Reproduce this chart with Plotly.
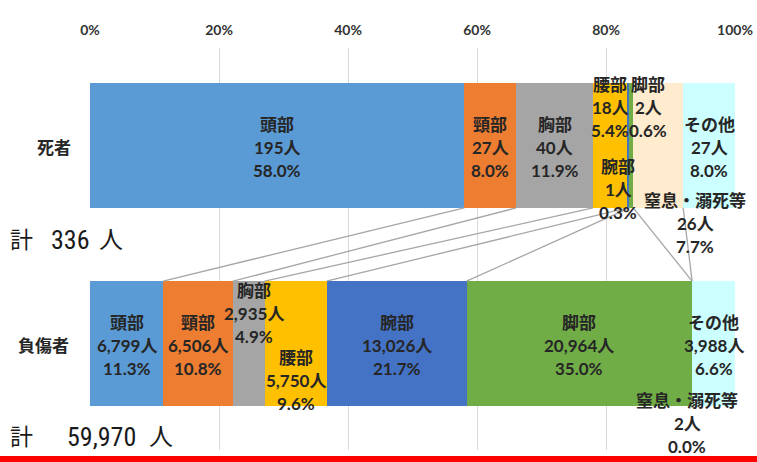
import plotly.graph_objects as go
import numpy as np

# ---------------- data ----------------
parts = ["頭部", "頸部", "胸部", "腰部", "腕部", "脚部", "窒息・溺死等", "その他"]
deaths = [195, 27, 40, 18, 1, 2, 26, 27]
injured = [6799, 6506, 2935, 5750, 13026, 20964, 2, 3988]
groups = ["死者", "負傷者"]
x_ticks = [0, 20, 40, 60, 80, 100]

# ---------------- style ----------------
colors = ["#5B9BD5", "#ED7D31", "#A5A5A5", "#FFC000",
          "#4472C4", "#70AD47", "#FFEBCD", "#CCFFFF"]
# label offsets in pixels (x right, y up)
death_dx = [0, 0, 0, 0, -10, 17, 37, 0]
death_dy = [-2, -2, -2, 38, -44, 38, -78, -2]
inj_dx = [0, 0, 5, 0, 0, 0, -5, 0]
inj_dy = [-2, -2, 30, -37, -2, -2, -80, -2]
LINE_GAP = 23
BAR_W = 0.63
Y_D, Y_I = 1, 0

# page geometry (body margin removed via post_script)
OFF = 0
PAGE_W, PAGE_H = 757, 462
PL, PR, PT, PB = 90, 735, 48, 450          # plot area in page pixels
W, H = PAGE_W - OFF, PAGE_H - OFF
ML, MT = PL - OFF, PT - OFF
MR, MB = W - (PR - OFF), H - (PB - OFF)
PW, PH = PR - PL, PB - PT
CY_D, CY_I = 145.5, 343.5                   # bar centres in page pixels
SPACING = CY_I - CY_D

TXT = "#262626"
LBL_FONT = "Lato, 'Noto Sans CJK JP', sans-serif"
TOT_FONT = "'Liberation Sans Narrow', 'Roboto Condensed', 'DejaVu Sans Condensed', 'Noto Sans CJK JP', sans-serif"


def px_x(px):
    return (px - PL) / PW


def px_y(py):
    return (PB - py) / PH


tot_d = sum(deaths)
tot_i = sum(injured)
pct_d = [v / tot_d * 100 for v in deaths]
pct_i = [v / tot_i * 100 for v in injured]
cum_d = np.cumsum(pct_d)
cum_i = np.cumsum(pct_i)

fig = go.Figure()

# series (connector) lines
cx, cy = [], []
for i in range(len(parts) - 1):
    cx += [cum_d[i], cum_i[i], None]
    cy += [Y_D - BAR_W / 2, Y_I + BAR_W / 2, None]
fig.add_trace(go.Scatter(x=cx, y=cy, mode="lines",
                         line=dict(color="#A6A6A6", width=1.3),
                         hoverinfo="skip", showlegend=False))

for i, p in enumerate(parts):
    fig.add_trace(go.Bar(orientation="h", y=[Y_D, Y_I], x=[deaths[i], injured[i]],
                         width=BAR_W, marker=dict(color=colors[i], line=dict(width=0)),
                         name=p, showlegend=False))

annotations = []
for vals, pcts, cums, yv, dxs, dys in [
    (deaths, pct_d, cum_d, Y_D, death_dx, death_dy),
    (injured, pct_i, cum_i, Y_I, inj_dx, inj_dy),
]:
    for i, p in enumerate(parts):
        xc = cums[i] - pcts[i] / 2
        lines = [p, f"{vals[i]:,}人", f"{pcts[i]:.1f}%"]
        for k, t in enumerate(lines):
            annotations.append(dict(
                x=xc, y=yv, xref="x", yref="y", text=f"<b>{t}</b>", showarrow=False,
                xshift=dxs[i], yshift=dys[i] + LINE_GAP * (1 - k),
                font=dict(family=LBL_FONT, size=17, color=TXT),
                xanchor="center", yanchor="middle"))

# group labels
for g, yv, pxc in [(groups[0], Y_D, 54), (groups[1], Y_I, 43)]:
    annotations.append(dict(x=px_x(pxc), y=yv, xref="paper", yref="y",
                            text=f"<b>{g}</b>", showarrow=False, yshift=-2,
                            font=dict(family=LBL_FONT, size=17, color=TXT),
                            xanchor="center", yanchor="middle"))

# totals
for tot, py, num_right, hito_left, bg in [(tot_d, 240, 92, 97, "rgba(0,0,0,0)"),
                                          (tot_i, 437, 138, 147, "white")]:
    annotations.append(dict(x=px_x(8), y=px_y(py), xref="paper", yref="paper",
                            text="計", showarrow=False, xanchor="left", yanchor="middle",
                            font=dict(family=TOT_FONT, size=23, color="#1a1a1a")))
    annotations.append(dict(x=px_x(num_right), y=px_y(py), xref="paper", yref="paper",
                            text=f"{tot:,}", showarrow=False, xanchor="right", yanchor="middle",
                            bgcolor=bg,
                            font=dict(family=TOT_FONT, size=26, color="#1a1a1a")))
    annotations.append(dict(x=px_x(hito_left), y=px_y(py), xref="paper", yref="paper",
                            text="人", showarrow=False, xanchor="left", yanchor="middle",
                            font=dict(family=TOT_FONT, size=24, color="#1a1a1a")))

fig.update_layout(
    width=W, height=H,
    margin=dict(l=ML, r=MR, t=MT, b=MB, pad=0, autoexpand=False),
    paper_bgcolor="white", plot_bgcolor="white",
    barmode="stack", barnorm="percent",
    annotations=annotations,
    shapes=[dict(type="rect", xref="paper", yref="paper",
                 x0=px_x(-20), x1=px_x(PAGE_W + 20), y0=px_y(456), y1=px_y(PAGE_H + 20),
                 fillcolor="#FF0000", line=dict(width=0), layer="above")],
    xaxis=dict(side="top", range=[0, 100], tickvals=x_ticks,
               ticktext=[f"{t}%" for t in x_ticks],
               showgrid=True, gridcolor="#D9D9D9", gridwidth=1,
               zeroline=False, showline=False, automargin=False,
               ticks="outside", ticklen=6, tickcolor="rgba(0,0,0,0)",
               tickfont=dict(family="Lato, sans-serif", size=14, color="#333333", weight="bold"),
               fixedrange=True),
    yaxis=dict(range=[(CY_I - PB) / SPACING, (CY_I - PT) / SPACING],
               showticklabels=False, showgrid=False, zeroline=False, showline=False,
               automargin=False, fixedrange=True),
)

fig.write_html("out.html",
               config={"displayModeBar": False},
               post_script="document.body.style.margin='0';document.body.style.overflow='hidden';")
